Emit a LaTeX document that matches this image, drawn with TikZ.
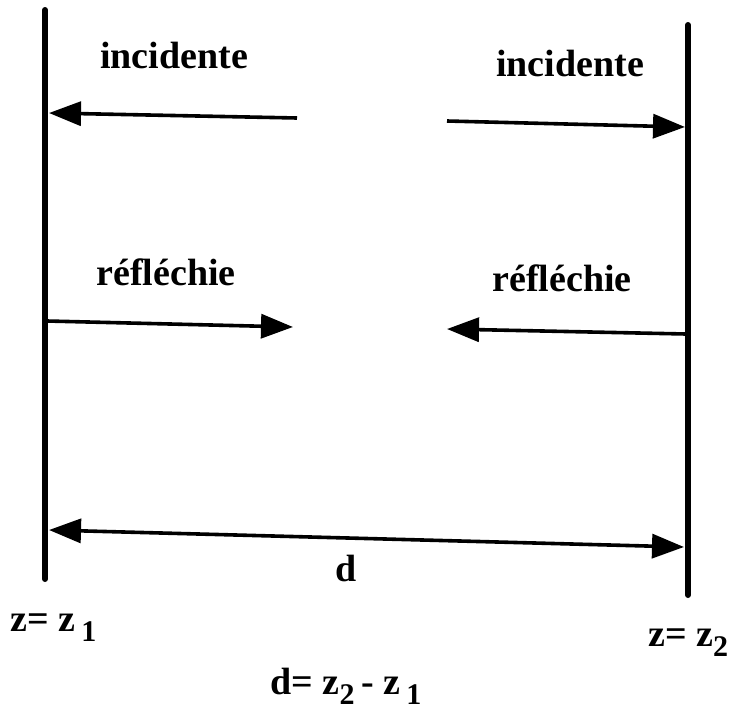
\documentclass[tikz,border=0pt]{standalone}
\usepackage{fontspec}
\setmainfont{Liberation Serif}
\usetikzlibrary{arrows.meta}
\newcommand{\lowidx}[1]{\raisebox{-10pt}{\fontsize{30}{32}\selectfont #1}}
\tikzset{
  wall/.style={line width=6pt, line cap=round},
  wave/.style={line width=3.6pt, -{Triangle[length=32pt,width=24pt]}},
  dim/.style={line width=3.6pt, {Triangle[length=32pt,width=24pt]}-{Triangle[length=32pt,width=24pt]}},
  lbl/.style={font=\bfseries\fontsize{38}{42}\selectfont, inner sep=0pt, anchor=base},
}
\begin{document}
\begin{tikzpicture}[x=1pt,y=-1pt]
\useasboundingbox (0,0) rectangle (743,715);
% walls
\coordinate (l1t) at (45,10);
\coordinate (l1b) at (45,579);
\coordinate (l2t) at (688,25);
\coordinate (l2b) at (688,595);
\draw[wall] (l1t) -- (l1b);
\draw[wall] (l2t) -- (l2b);
% arrows
\coordinate (a1s) at (297,118); \coordinate (a1e) at (49,113);
\coordinate (a2s) at (447,121); \coordinate (a2e) at (685,127);
\coordinate (a3s) at (47,321);  \coordinate (a3e) at (293,327);
\coordinate (a4s) at (686,334); \coordinate (a4e) at (447,329);
\coordinate (ds) at (49,530);   \coordinate (de) at (684,547);
\draw[wave] (a1s) -- (a1e);
\draw[wave] (a2s) -- (a2e);
\draw[wave] (a3s) -- (a3e);
\draw[wave] (a4s) -- (a4e);
\draw[dim] (ds) -- (de);
% labels
\node[lbl] (inc1) at (174,68) {incidente};
\node[lbl] (inc2) at (570,76) {incidente};
\node[lbl] (ref1) at (166,285) {réfléchie};
\node[lbl] (ref2) at (562,291) {réfléchie};
\node[lbl] (d) at (346,581) {d};
\node[lbl, anchor=base west] (z1) at (10,631) {z= z\,\lowidx{1}};
\node[lbl, anchor=base west] (z2) at (648,646) {z= z\lowidx{2}};
\node[lbl] (dz) at (346,694) {d= z\lowidx{2}\,- z\,\lowidx{1}};
\end{tikzpicture}
\end{document}
